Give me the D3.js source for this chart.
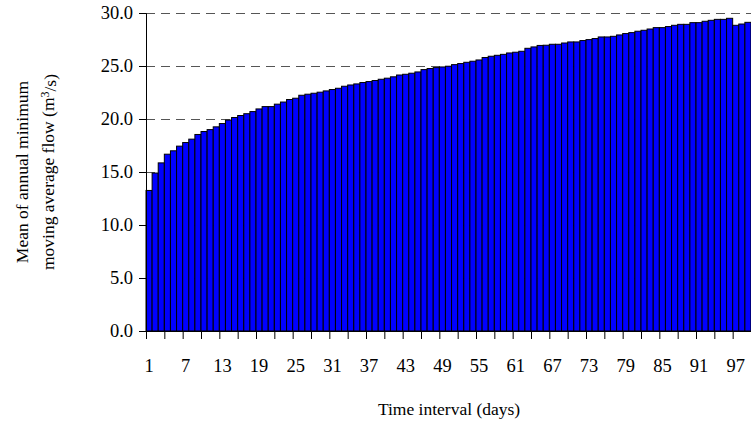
<!DOCTYPE html>
<html>
<head>
<meta charset="utf-8">
<script src="https://cdn.jsdelivr.net/npm/d3@7/dist/d3.min.js"></script>
<style>
  html, body { margin: 0; padding: 0; background: #fff; }
  svg { display: block; }
  text { font-family: "Liberation Serif", "Times New Roman", serif; fill: #000; }
</style>
</head>
<body>
<svg id="chart" width="751" height="421"></svg>
<script>
// ---- data ----
const days = d3.range(1, 100); // 1..99
const meanMinFlow = [
  13.26, 14.90, 15.86, 16.68, 17.00, 17.44, 17.78, 18.10, 18.54, 18.82,
  19.00, 19.26, 19.57, 19.90, 20.14, 20.33, 20.50, 20.70, 20.95, 21.17,
  21.17, 21.40, 21.60, 21.84, 21.96, 22.24, 22.34, 22.43, 22.53, 22.65,
  22.78, 22.90, 23.09, 23.21, 23.31, 23.44, 23.53, 23.63, 23.75, 23.85,
  23.98, 24.15, 24.22, 24.32, 24.44, 24.66, 24.76, 24.85, 24.91, 24.98,
  25.13, 25.23, 25.35, 25.45, 25.57, 25.80, 25.92, 26.01, 26.10, 26.23,
  26.30, 26.39, 26.67, 26.80, 26.94, 26.96, 27.05, 27.05, 27.17, 27.27,
  27.27, 27.40, 27.49, 27.59, 27.74, 27.74, 27.80, 27.93, 28.06, 28.15,
  28.28, 28.37, 28.49, 28.62, 28.62, 28.72, 28.84, 28.93, 28.93, 29.09,
  29.09, 29.22, 29.31, 29.40, 29.40, 29.50, 28.84, 28.96, 29.12
];
const xTickLabels = [1, 7, 13, 19, 25, 31, 37, 43, 49, 55, 61, 67, 73, 79, 85, 91, 97];
const yTicks = [0, 5, 10, 15, 20, 25, 30];
const xTitle = "Time interval (days)";
const yTitleLine1 = "Mean of annual minimum";
const yTitleLine2 = "moving average flow (m";

// ---- layout ----
const mLeft = 146, mRight = 751, mTop = 13, mBottom = 331;
const tickFont = "18.5px", titleFont = "17.5px";
const svg = d3.select("#chart");

const x = d3.scaleBand().domain(days).range([mLeft, mRight]).paddingInner(0).paddingOuter(0);
const xBound = d3.scaleLinear().domain([0, days.length]).range([mLeft, mRight]);
const y = d3.scaleLinear().domain([0, 30]).range([mBottom, mTop]);

// gridlines
svg.append("g")
  .selectAll("line")
  .data(yTicks.filter(d => d > 0))
  .join("line")
  .attr("x1", mLeft).attr("x2", mRight)
  .attr("y1", d => Math.round(y(d)) + 0.5).attr("y2", d => Math.round(y(d)) + 0.5)
  .attr("stroke", "#555")
  .attr("stroke-width", 1)
  .attr("stroke-dasharray", "9,6");

// bars
svg.append("g")
  .selectAll("rect")
  .data(days)
  .join("rect")
  .attr("x", d => x(d))
  .attr("width", x.bandwidth())
  .attr("y", (d, i) => y(meanMinFlow[i]))
  .attr("height", (d, i) => y(0) - y(meanMinFlow[i]))
  .attr("fill", "#0000FF")
  .attr("stroke", "#000")
  .attr("stroke-width", 1);

// y axis
const yAxis = d3.axisLeft(y).tickValues(yTicks).tickFormat(d3.format(".1f")).tickSize(7).tickPadding(6);
const gy = svg.append("g").attr("transform", `translate(${mLeft},0)`).call(yAxis);
gy.selectAll("text").style("font-size", tickFont).style("font-family", '"Liberation Serif", serif');
gy.selectAll("line, path").attr("stroke", "#000");

// x axis: tick marks at category boundaries every 3, labels every 6
const xAxisMarks = d3.axisBottom(xBound).tickValues(d3.range(0, days.length + 1, 3)).tickFormat("").tickSize(8).tickSizeOuter(0);
const gx = svg.append("g").attr("transform", `translate(0,${mBottom})`).call(xAxisMarks);
gx.selectAll("line, path").attr("stroke", "#000");

svg.append("g")
  .selectAll("text")
  .data(xTickLabels)
  .join("text")
  .attr("x", d => x(d) + x.bandwidth() / 2)
  .attr("y", 372)
  .attr("text-anchor", "middle")
  .style("font-size", tickFont)
  .text(d => d);

// x title
svg.append("text")
  .attr("x", 449)
  .attr("y", 415)
  .attr("text-anchor", "middle")
  .style("font-size", titleFont)
  .text(xTitle);

// y title (two lines, rotated)
const cy = (mTop + mBottom) / 2;
svg.append("text")
  .attr("transform", `translate(28,${cy}) rotate(-90)`)
  .attr("text-anchor", "middle")
  .style("font-size", titleFont)
  .text(yTitleLine1);

const t2 = svg.append("text")
  .attr("transform", `translate(54,${cy}) rotate(-90)`)
  .attr("text-anchor", "middle")
  .style("font-size", titleFont);
t2.append("tspan").text(yTitleLine2);
t2.append("tspan").attr("dy", "-0.45em").style("font-size", "12px").text("3");
t2.append("tspan").attr("dy", "0.45em").text("/s)");
</script>
</body>
</html>
